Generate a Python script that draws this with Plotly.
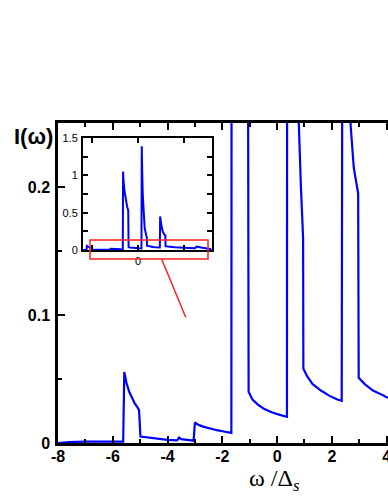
import plotly.graph_objects as go

# I(omega) spectrum (same data in main plot and inset)
omega = [-8.0, -7.6, -7.0, -6.5, -6.0, -5.62,
         -5.58, -5.5, -5.4, -5.3, -5.2, -5.1, -5.04, -4.99,
         -4.5, -4.0, -3.65, -3.58, -3.5, -3.3, -3.05, -3.0,
         -2.9, -2.7, -2.5, -2.2, -1.9, -1.67,
         -1.64, -1.6, -1.5, -1.4, -1.3, -1.2, -1.08, -1.04,
         -0.9, -0.7, -0.5, -0.2, 0.1, 0.36,
         0.39, 0.45, 0.5, 0.6, 0.7, 0.78, 0.87, 0.95, 0.96,
         1.1, 1.3, 1.6, 1.9, 2.2, 2.36,
         2.39, 2.45, 2.55, 2.68, 2.8, 2.96, 2.98,
         3.2, 3.5, 3.8, 4.0, 5.0, 6.2, 6.35, 6.5, 7.0, 7.5, 8.0]
intensity = [0.0, 0.0008, 0.001, 0.001, 0.001, 0.001,
             0.0555, 0.047, 0.040, 0.035, 0.031, 0.028, 0.0255, 0.005,
             0.0035, 0.0025, 0.002, 0.0042, 0.003, 0.0022, 0.0018, 0.016,
             0.0145, 0.0128, 0.0115, 0.0100, 0.0088, 0.0079,
             1.05, 0.95, 0.80, 0.70, 0.63, 0.58, 0.53, 0.040,
             0.034, 0.030, 0.027, 0.024, 0.022, 0.0205,
             1.39, 1.0, 0.75, 0.45, 0.31, 0.25, 0.20, 0.16, 0.058,
             0.052, 0.046, 0.041, 0.037, 0.034, 0.033,
             0.45, 0.38, 0.31, 0.25, 0.215, 0.195, 0.051,
             0.046, 0.041, 0.038, 0.0357, 0.030, 0.025, 0.045, 0.040, 0.030, 0.020, 0.010]

main_xticks = [-8, -6, -4, -2, 0, 2, 4]
main_yticks = [0, 0.1, 0.2]
main_ylabels = ["0", "0.1", "0.2"]
inset_yticks = [0, 0.5, 1, 1.5]
inset_ylabels = ["0", "0.5", "1", "1.5"]
inset_xticks = [0]
inset_xlabels = ["0"]

W, H = 388, 502
L, R, T, B = 58, 0, 123, 59
pw, ph = W - L - R, H - T - B

def px(x):
    return (x - L) / pw

def py(y):
    return (H - B - y) / ph

blue = "#0000ff"
fig = go.Figure()
fig.add_trace(go.Scatter(x=omega, y=intensity, mode="lines",
                         line=dict(color=blue, width=2.2), xaxis="x", yaxis="y",
                         showlegend=False, hoverinfo="skip"))
fig.add_trace(go.Scatter(x=omega, y=intensity, mode="lines",
                         line=dict(color=blue, width=2), xaxis="x2", yaxis="y2",
                         showlegend=False, hoverinfo="skip"))

bold = dict(family="Liberation Sans", size=16, color="black", weight="bold")
small = dict(family="Liberation Sans", size=11, color="black")

fig.update_layout(
    width=W, height=H,
    margin=dict(l=L, r=R, t=T, b=B, autoexpand=False),
    paper_bgcolor="white", plot_bgcolor="rgba(0,0,0,0)",
    xaxis=dict(range=[-8, 4.05], domain=[0, 1], tickvals=main_xticks,
               ticktext=[str(v) for v in main_xticks], automargin=False,
               ticklabeloverflow="allow",
               ticks="inside", ticklen=7, tickwidth=2, tickcolor="black",
               minor=dict(ticks="inside", ticklen=4, tickwidth=2, dtick=1, tick0=-7,
                          tickcolor="black", showgrid=False),
               showline=True, linewidth=2.5, linecolor="black", mirror="ticks",
               showgrid=False, zeroline=False, tickfont=bold, ticklabelstandoff=-3),
    yaxis=dict(range=[0, 0.25], domain=[0, 1], tickvals=main_yticks,
               ticktext=main_ylabels, automargin=False,
               ticks="inside", ticklen=7, tickwidth=2, tickcolor="black",
               minor=dict(ticks="inside", ticklen=4, tickwidth=2, dtick=0.05,
                          tickcolor="black", showgrid=False),
               showline=True, linewidth=2.5, linecolor="black", mirror=False,
               showgrid=False, zeroline=False, tickfont=bold, ticklabelstandoff=2),
    xaxis2=dict(range=[-6, 8], domain=[px(83), px(211.7)], anchor="y2",
                tickvals=inset_xticks, ticktext=inset_xlabels, automargin=False,
                ticks="inside", ticklen=5, tickwidth=2, tickcolor="black",
                minor=dict(ticks="inside", ticklen=5, tickwidth=2, dtick=5, tick0=0,
                           tickcolor="black", showgrid=False),
                showline=True, linewidth=2, linecolor="black", mirror="ticks",
                showgrid=False, zeroline=False, tickfont=small, ticklabelstandoff=0),
    yaxis2=dict(range=[0, 1.5], domain=[py(250), py(138)], anchor="x2",
                tickvals=inset_yticks, ticktext=inset_ylabels, automargin=False,
                ticks="inside", ticklen=5, tickwidth=2, tickcolor="black",
                minor=dict(ticks="inside", ticklen=5, tickwidth=2, dtick=0.25,
                           tickcolor="black", showgrid=False),
                showline=True, linewidth=2, linecolor="black", mirror="ticks",
                showgrid=False, zeroline=False, tickfont=small, ticklabelstandoff=1),
    shapes=[
        dict(type="rect", xref="paper", yref="paper",
             x0=px(90), x1=px(208), y0=py(259), y1=py(240),
             line=dict(color="#ff2020", width=1.5), layer="above"),
        dict(type="line", xref="paper", yref="paper",
             x0=px(161.7), y0=py(259.3), x1=px(185.7), y1=py(317.3),
             line=dict(color="#ff2020", width=1.5), layer="above"),
    ],
    annotations=[
        dict(text="<b>I(ω)</b>", xref="paper", yref="paper",
             x=px(33), y=py(136), xanchor="center", yanchor="middle",
             showarrow=False, font=dict(family="Liberation Sans", size=22, color="black")),
        dict(text="ω /Δ<sub><i>s</i></sub>", xref="paper", yref="paper",
             x=px(247), y=py(480), xanchor="left", yanchor="middle",
             showarrow=False, font=dict(family="Liberation Serif", size=24, color="black")),
    ],
)

fig.write_html("out.html", config={"displayModeBar": False},
               post_script="document.body.style.margin='0';document.body.style.overflow='hidden';")
